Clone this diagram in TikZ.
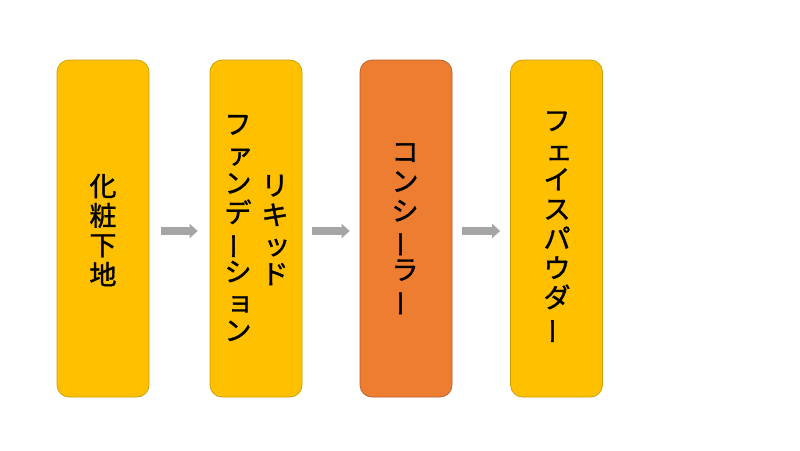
\documentclass[tikz,border=0pt]{standalone}
\usepackage{fontspec}
\usepackage{graphicx}
\newfontfamily\jp[RawFeature={embolden=1.3}]{Noto Sans CJK JP}
\usetikzlibrary{arrows.meta}
\definecolor{yel}{HTML}{FFC000}
\definecolor{yelb}{HTML}{C9A000}
\definecolor{org}{HTML}{ED7D31}
\definecolor{orgb}{HTML}{B5602A}
\definecolor{agray}{HTML}{A5A5A5}
\newcommand\vbar{\rotatebox[origin=c]{90}{ー}}
\newcommand\sk[1]{\hspace*{4pt}#1}
\tikzset{
  box/.style={draw, line width=0.7pt, rounded corners=12pt, minimum width=92pt, minimum height=337pt, inner sep=0pt},
  vtxt/.style={align=center, inner sep=0pt, font=\jp\fontsize{27}{29.5}\selectfont},
  conn/.style={draw=agray, line width=8pt, -{Triangle[length=8pt,width=14pt]}}
}
\begin{document}
\begin{tikzpicture}[x=1pt,y=-1pt]
\useasboundingbox (0,0) rectangle (800,450);
\fill[white] (0,0) rectangle (800,450);
\node[box, fill=yel, draw=yelb] (b1) at (103,228.5) {};
\node[box, fill=yel, draw=yelb] (b2) at (256,228.5) {};
\node[box, fill=org, draw=orgb] (b3) at (406,228.5) {};
\node[box, fill=yel, draw=yelb] (b4) at (556.5,228.5) {};
\node[vtxt] (t1) at (103,230) {化\\粧\\下\\地};
\node[vtxt] (t2a) at (275,230) {リ\\キ\\\sk{ッ}\\ド};
\node[vtxt] (t2b) at (238,228) {フ\\\sk{ァ}\\ン\\デ\\\vbar\\シ\\\sk{ョ}\\ン};
\node[vtxt] (t3) at (405,230) {コ\\ン\\シ\\\vbar\\ラ\\\vbar};
\node[vtxt] (t4) at (557,228) {フ\\\sk{ェ}\\イ\\ス\\パ\\ウ\\ダ\\\vbar};
\draw[conn] ([xshift=12pt,yshift=-2.5pt]b1.east) -- ([xshift=-12pt,yshift=-2.5pt]b2.west);
\draw[conn] ([xshift=10pt,yshift=-2.5pt]b2.east) -- ([xshift=-10pt,yshift=-2.5pt]b3.west);
\draw[conn] ([xshift=10pt,yshift=-2.5pt]b3.east) -- ([xshift=-10pt,yshift=-2.5pt]b4.west);
\end{tikzpicture}
\end{document}
